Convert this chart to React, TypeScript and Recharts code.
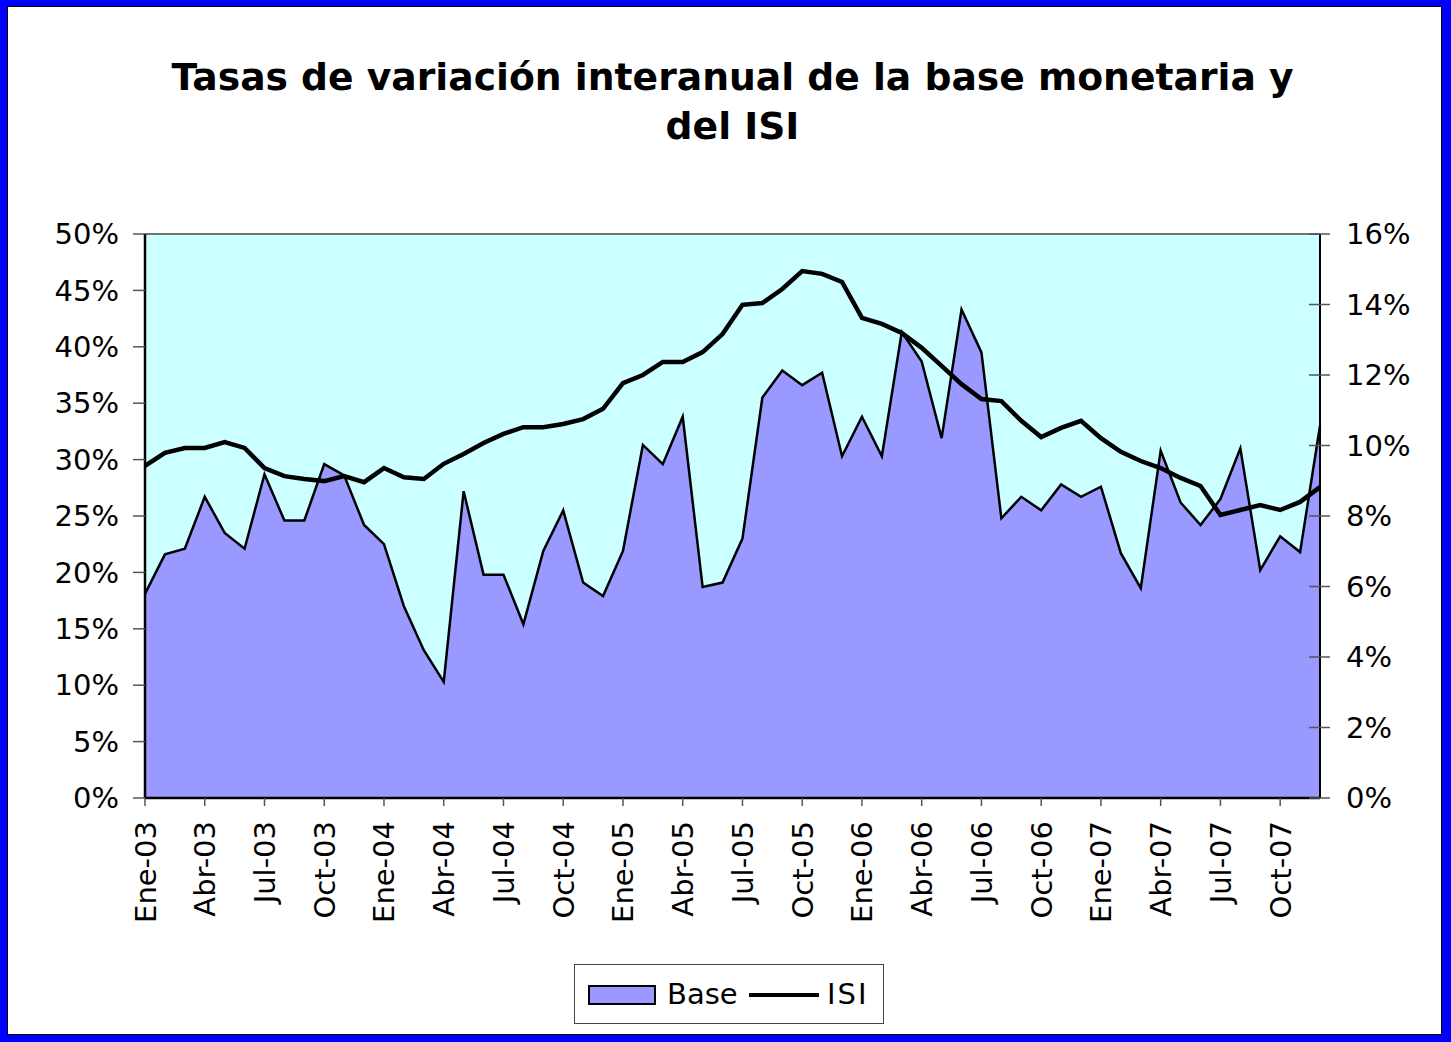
import React from "react";
import {
  Area,
  ComposedChart,
  Line,
  ReferenceLine,
  XAxis,
  YAxis,
} from "recharts";

const meses = [
  "Ene-03", "Feb-03", "Mar-03", "Abr-03", "May-03", "Jun-03", "Jul-03", "Ago-03", "Sep-03", "Oct-03", "Nov-03", "Dic-03",
  "Ene-04", "Feb-04", "Mar-04", "Abr-04", "May-04", "Jun-04", "Jul-04", "Ago-04", "Sep-04", "Oct-04", "Nov-04", "Dic-04",
  "Ene-05", "Feb-05", "Mar-05", "Abr-05", "May-05", "Jun-05", "Jul-05", "Ago-05", "Sep-05", "Oct-05", "Nov-05", "Dic-05",
  "Ene-06", "Feb-06", "Mar-06", "Abr-06", "May-06", "Jun-06", "Jul-06", "Ago-06", "Sep-06", "Oct-06", "Nov-06", "Dic-06",
  "Ene-07", "Feb-07", "Mar-07", "Abr-07", "May-07", "Jun-07", "Jul-07", "Ago-07", "Sep-07", "Oct-07", "Nov-07", "Dic-07",
];

// base monetaria, % interanual (eje izquierdo)
const base = [
  18.1, 21.6, 22.1, 26.7, 23.5, 22.1, 28.7, 24.6, 24.6, 29.6, 28.6, 24.2,
  22.5, 17.0, 13.1, 10.3, 27.2, 19.8, 19.8, 15.4, 21.9, 25.5, 19.1, 17.9,
  21.9, 31.3, 29.6, 33.8, 18.7, 19.1, 23.0, 35.5, 37.9, 36.6, 37.7, 30.3,
  33.8, 30.3, 41.3, 38.7, 31.9, 43.3, 39.5, 24.8, 26.7, 25.5, 27.8, 26.7,
  27.6, 21.7, 18.6, 30.8, 26.2, 24.2, 26.5, 31.0, 20.2, 23.2, 21.8, 33.0,
];

// ISI, % interanual (eje derecho)
const isi = [
  9.42, 9.79, 9.93, 9.93, 10.1, 9.93, 9.36, 9.13, 9.05, 8.99, 9.13, 8.96,
  9.36, 9.1, 9.05, 9.48, 9.76, 10.07, 10.33, 10.52, 10.52, 10.61, 10.75, 11.04,
  11.77, 12.0, 12.37, 12.37, 12.65, 13.16, 13.99, 14.04, 14.44, 14.95, 14.87, 14.64,
  13.62, 13.45, 13.19, 12.77, 12.26, 11.74, 11.32, 11.26, 10.7, 10.24, 10.5, 10.7,
  10.21, 9.82, 9.56, 9.36, 9.08, 8.85, 8.03, 8.17, 8.31, 8.17, 8.4, 8.82,
];

const ticksIzq = [0, 5, 10, 15, 20, 25, 30, 35, 40, 45, 50];
const ticksDer = [0, 2, 4, 6, 8, 10, 12, 14, 16];

const data = meses.map((mes, i) => ({ mes, base: base[i], isi: isi[i] }));

const FONT = "'DejaVu Sans', sans-serif";

const XTick = (props: any) => {
  const { x, y, payload } = props;
  return (
    <text
      transform={`translate(${x + 10.5},${y}) rotate(-90)`}
      textAnchor="end"
      fontSize={29}
      fontFamily={FONT}
      fill="#000"
    >
      {payload.value}
    </text>
  );
};

const RightTick = (props: any) => {
  const { x, y, payload } = props;
  return (
    <g>
      <line x1={x - 37} x2={x - 16} y1={y} y2={y} stroke="#555" strokeWidth={1.5} />
      <text x={x} y={y} dy="0.36em" textAnchor="start" fontSize={29} fontFamily={FONT} fill="#000">
        {payload.value}%
      </text>
    </g>
  );
};

export default function App() {
  return (
    <div style={{ position: "absolute", left: 0, top: 0, width: 1451, height: 1042, background: "#fff", overflow: "hidden" }}>
      {/* fondo del área de trazado */}
      <div style={{ position: "absolute", left: 145, top: 234, width: 1175, height: 564, background: "#CCFFFF" }} />

      <ComposedChart width={1451} height={1042} data={data} margin={{ top: 234, right: 0, bottom: 114, left: 0 }}>
        <XAxis
          dataKey="mes"
          scale="point"
          interval={2}
          tick={<XTick />}
          tickSize={8}
          tickMargin={15}
          tickLine={{ stroke: "#555", strokeWidth: 1.5 }}
          axisLine={{ stroke: "#000", strokeWidth: 2.5 }}
          height={130}
        />
        <YAxis
          yAxisId="left"
          domain={[0, 50]}
          ticks={ticksIzq}
          width={145}
          tickSize={12}
          tickMargin={14}
          tickFormatter={(v: number) => `${v}%`}
          tick={{ fontSize: 29, fontFamily: FONT, fill: "#000" }}
          tickLine={{ stroke: "#555", strokeWidth: 1.5 }}
          axisLine={{ stroke: "#000", strokeWidth: 2.5 }}
        />
        <YAxis
          yAxisId="right"
          orientation="right"
          domain={[0, 16]}
          ticks={ticksDer}
          width={131}
          tickSize={10}
          tickMargin={16}
          tick={<RightTick />}
          tickLine={false}
          axisLine={{ stroke: "#000", strokeWidth: 2 }}
        />
        <Area
          yAxisId="left"
          type="linear"
          dataKey="base"
          fill="#9999FF"
          fillOpacity={1}
          stroke="#000"
          strokeWidth={2.5}
          dot={false}
          activeDot={false}
          isAnimationActive={false}
        />
        <Line
          yAxisId="right"
          type="linear"
          dataKey="isi"
          stroke="#000"
          strokeWidth={4.5}
          dot={false}
          activeDot={false}
          isAnimationActive={false}
        />
        <ReferenceLine yAxisId="left" y={50} stroke="#444" strokeWidth={1.5} />
      </ComposedChart>

      <div
        style={{
          position: "absolute",
          left: 0,
          right: 0,
          top: 53,
          textAlign: "center",
          fontFamily: FONT,
          fontWeight: "bold",
          fontSize: 37.7,
          lineHeight: "49px",
          color: "#000",
          paddingLeft: 14,
        }}
      >
        Tasas de variación interanual de la base monetaria y
        <br />
        del ISI
      </div>

      <div
        style={{
          position: "absolute",
          left: 574,
          top: 964,
          width: 308,
          height: 58,
          border: "1px solid #444",
          fontFamily: FONT,
          fontSize: 29,
          color: "#000",
        }}
      >
        <div style={{ position: "absolute", left: 13, top: 20, width: 64, height: 16, background: "#9999FF", border: "2px solid #000" }} />
        <div style={{ position: "absolute", left: 92, top: 11, lineHeight: "36px" }}>Base</div>
        <div style={{ position: "absolute", left: 174, top: 28, width: 70, height: 4, background: "#000" }} />
        <div style={{ position: "absolute", left: 252, top: 11, lineHeight: "36px", letterSpacing: 2 }}>ISI</div>
      </div>

      <div style={{ position: "absolute", inset: 0, border: "7px solid #0000FF", borderTopWidth: 6, borderRightWidth: 9, pointerEvents: "none" }} />
      <div style={{ position: "absolute", left: 7, top: 6, right: 9, bottom: 7, border: "1.5px solid #000", pointerEvents: "none" }} />
    </div>
  );
}
